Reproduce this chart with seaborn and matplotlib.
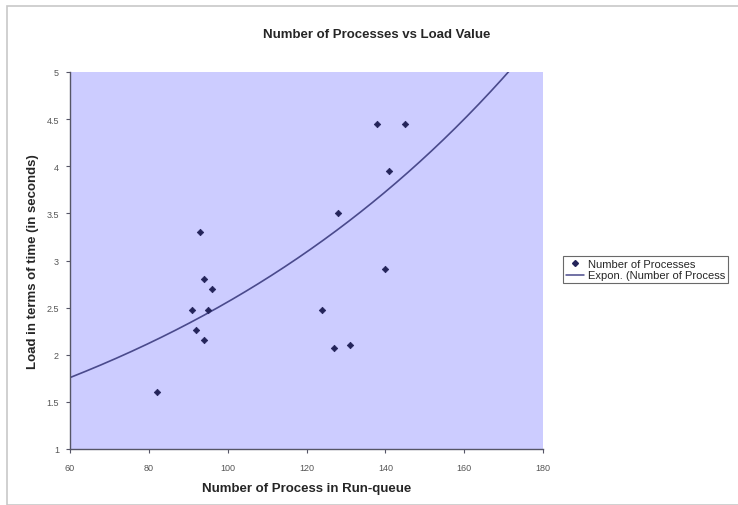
import numpy as np
import pandas as pd
import seaborn as sns
import matplotlib
matplotlib.use("Agg")
import matplotlib.pyplot as plt
from matplotlib.patches import Rectangle
from matplotlib.lines import Line2D

processes = [82, 91, 92, 93, 94, 94, 95, 96, 124, 127, 128, 131, 138, 140, 141, 145]
load = [1.60, 2.48, 2.26, 3.30, 2.80, 2.16, 2.48, 2.70, 2.48, 2.07, 3.50, 2.10, 4.45, 2.91, 3.95, 4.45]
x_ticks = [60, 80, 100, 120, 140, 160, 180]
y_ticks = [1, 1.5, 2, 2.5, 3, 3.5, 4, 4.5, 5]
# Excel exponential trendline shown on the chart: y = a * exp(b * x)
trend_a = 1.0
trend_b = 0.0094

df = pd.DataFrame({"processes": processes, "load": load})

sns.set_theme(style="white")
plt.rcParams["font.family"] = ["Liberation Sans", "DejaVu Sans"]

fig = plt.figure(figsize=(7.38, 5.06), dpi=100)
fig.patch.set_facecolor("white")
fig.add_artist(Rectangle((7 / 738, 0.0), 1.0, 1 - 7 / 506, transform=fig.transFigure,
                         fill=False, edgecolor="#c8c8c8", linewidth=1.2))

ax = fig.add_axes([70 / 738, 1 - 450 / 506, 473 / 738, 377 / 506])
ax.set_facecolor("#ccccff")

xs = np.linspace(60, 180, 400)
trend = pd.DataFrame({"x": xs, "y": trend_a * np.exp(trend_b * xs)})
sns.lineplot(data=trend, x="x", y="y", ax=ax, color="#4a4a8c", linewidth=1.2)

sns.scatterplot(data=df, x="processes", y="load", ax=ax, marker="D", s=11,
                color="#24245a", edgecolor="#24245a", linewidth=0.5, zorder=5)

ax.set_xlim(60, 180)
ax.set_ylim(1, 5)
ax.set_xticks(x_ticks)
ax.set_yticks(y_ticks)
ax.set_xticklabels([str(v) for v in x_ticks])
ax.set_yticklabels([f"{v:g}" for v in y_ticks])
ax.tick_params(axis="both", which="both", direction="out", length=3, width=0.8,
               color="#555566", labelsize=6.5, labelcolor="#555555",
               bottom=True, left=True)
ax.tick_params(axis="x", pad=7)
ax.tick_params(axis="y", pad=5)
for side in ["top", "right"]:
    ax.spines[side].set_visible(False)
for side in ["left", "bottom"]:
    ax.spines[side].set_color("#555566")
    ax.spines[side].set_linewidth(1.0)

ax.set_xlabel("Number of Process in Run-queue", fontsize=9.5, fontweight="bold", labelpad=7)
ax.set_ylabel("Load in terms of time (in seconds)", fontsize=9.5, fontweight="bold", labelpad=5)
fig.text(376.5 / 738, 1 - 35 / 506, "Number of Processes vs Load Value", ha="center", va="center",
         fontsize=9.5, fontweight="bold")

handles = [Line2D([], [], marker="D", linestyle="none", markersize=3, color="#24245a"),
           Line2D([], [], color="#4a4a8c", linewidth=1.1)]
leg = fig.legend(handles, ["Number of Processes", "Expon. (Number of Process"],
                 loc="upper left", bbox_to_anchor=(563 / 738, 1 - 257 / 506),
                 fontsize=8, frameon=True, fancybox=False, edgecolor="#444444",
                 handlelength=1.6, handletextpad=0.4, borderpad=0.25, labelspacing=0.15,
                 borderaxespad=0)
leg.get_frame().set_linewidth(0.8)

fig.savefig("out.png", dpi=100)
